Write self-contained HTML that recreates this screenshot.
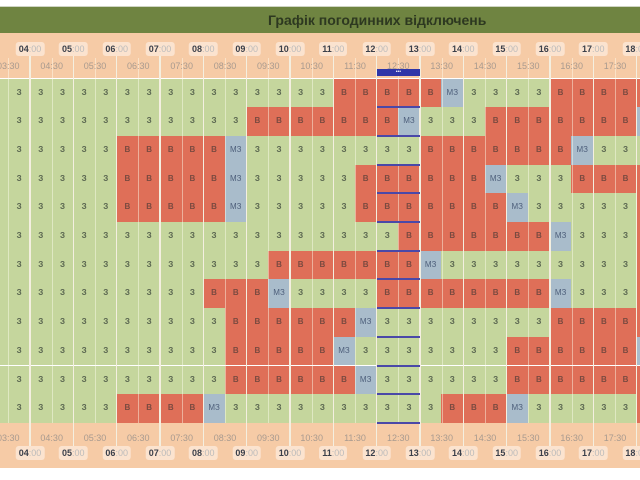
<!DOCTYPE html>
<html><head><meta charset="utf-8"><style>
*{margin:0;padding:0;box-sizing:border-box}
body{width:640px;height:480px;overflow:hidden;background:#fff;position:relative;font-family:"Liberation Sans","DejaVu Sans",sans-serif}
.title{position:absolute;left:0;top:6px;width:640px;height:27px;background:#6f8441;border-top:1px solid #cfd5c4}
.title span{position:absolute;left:268px;top:5px;font-size:14px;font-weight:bold;color:#2d3820;white-space:nowrap}
.hdr{position:absolute;left:0;width:640px;background:#f6cba6}
.row{position:absolute;left:-13.33px;height:28.7px;display:flex;width:700px}
.row span{flex:0 0 21.667px;height:28.7px;line-height:28.7px;text-align:center;font-size:8px;font-weight:bold;color:#5a6650}
.g{background:#c5d69d}.r{background:#df6f58;color:#7a4a40!important}.m{background:#a9bccb;color:#4d5e7a!important;font-weight:normal!important}
.vl{position:absolute;width:1.5px;background:#f4efe0}
.vh{position:absolute;width:1px;background:rgba(255,255,240,0.45)}
.hl{position:absolute;transform:translateX(-50%);background:#fbe3cf;border-radius:3px;font-size:9px;padding:2px 3px;white-space:nowrap;color:#bbb}
.hl b{color:#3a3f4a}
.hh{position:absolute;transform:translateX(-50%);font-size:9px;color:#a89a8f;white-space:nowrap}
.bl{position:absolute;left:376.7px;width:43.3px;height:2px;background:#4a48a8}
</style></head><body>
<div class="title"><span>Графік погодинних відключень</span></div>
<div class="hdr" style="top:33px;height:45px"></div>
<div class="hdr" style="top:423px;height:45px"></div>

<div class="row" style="top:78.5px"><span class="g">З</span><span class="g">З</span><span class="g">З</span><span class="g">З</span><span class="g">З</span><span class="g">З</span><span class="g">З</span><span class="g">З</span><span class="g">З</span><span class="g">З</span><span class="g">З</span><span class="g">З</span><span class="g">З</span><span class="g">З</span><span class="g">З</span><span class="g">З</span><span class="r">В</span><span class="r">В</span><span class="r">В</span><span class="r">В</span><span class="r">В</span><span class="m">МЗ</span><span class="g">З</span><span class="g">З</span><span class="g">З</span><span class="g">З</span><span class="r">В</span><span class="r">В</span><span class="r">В</span><span class="r">В</span><span class="r">В</span></div>
<div class="row" style="top:107.2px"><span class="g">З</span><span class="g">З</span><span class="g">З</span><span class="g">З</span><span class="g">З</span><span class="g">З</span><span class="g">З</span><span class="g">З</span><span class="g">З</span><span class="g">З</span><span class="g">З</span><span class="g">З</span><span class="r">В</span><span class="r">В</span><span class="r">В</span><span class="r">В</span><span class="r">В</span><span class="r">В</span><span class="r">В</span><span class="m">МЗ</span><span class="g">З</span><span class="g">З</span><span class="g">З</span><span class="r">В</span><span class="r">В</span><span class="r">В</span><span class="r">В</span><span class="r">В</span><span class="r">В</span><span class="r">В</span><span class="m">МЗ</span></div>
<div class="row" style="top:135.9px"><span class="g">З</span><span class="g">З</span><span class="g">З</span><span class="g">З</span><span class="g">З</span><span class="g">З</span><span class="r">В</span><span class="r">В</span><span class="r">В</span><span class="r">В</span><span class="r">В</span><span class="m">МЗ</span><span class="g">З</span><span class="g">З</span><span class="g">З</span><span class="g">З</span><span class="g">З</span><span class="g">З</span><span class="g">З</span><span class="g">З</span><span class="r">В</span><span class="r">В</span><span class="r">В</span><span class="r">В</span><span class="r">В</span><span class="r">В</span><span class="r">В</span><span class="m">МЗ</span><span class="g">З</span><span class="g">З</span><span class="g">З</span></div>
<div class="row" style="top:164.6px"><span class="g">З</span><span class="g">З</span><span class="g">З</span><span class="g">З</span><span class="g">З</span><span class="g">З</span><span class="r">В</span><span class="r">В</span><span class="r">В</span><span class="r">В</span><span class="r">В</span><span class="m">МЗ</span><span class="g">З</span><span class="g">З</span><span class="g">З</span><span class="g">З</span><span class="g">З</span><span class="r">В</span><span class="r">В</span><span class="r">В</span><span class="r">В</span><span class="r">В</span><span class="r">В</span><span class="m">МЗ</span><span class="g">З</span><span class="g">З</span><span class="g">З</span><span class="r">В</span><span class="r">В</span><span class="r">В</span><span class="r">В</span></div>
<div class="row" style="top:193.3px"><span class="g">З</span><span class="g">З</span><span class="g">З</span><span class="g">З</span><span class="g">З</span><span class="g">З</span><span class="r">В</span><span class="r">В</span><span class="r">В</span><span class="r">В</span><span class="r">В</span><span class="m">МЗ</span><span class="g">З</span><span class="g">З</span><span class="g">З</span><span class="g">З</span><span class="g">З</span><span class="r">В</span><span class="r">В</span><span class="r">В</span><span class="r">В</span><span class="r">В</span><span class="r">В</span><span class="r">В</span><span class="m">МЗ</span><span class="g">З</span><span class="g">З</span><span class="g">З</span><span class="g">З</span><span class="g">З</span><span class="r">В</span></div>
<div class="row" style="top:222px"><span class="g">З</span><span class="g">З</span><span class="g">З</span><span class="g">З</span><span class="g">З</span><span class="g">З</span><span class="g">З</span><span class="g">З</span><span class="g">З</span><span class="g">З</span><span class="g">З</span><span class="g">З</span><span class="g">З</span><span class="g">З</span><span class="g">З</span><span class="g">З</span><span class="g">З</span><span class="g">З</span><span class="g">З</span><span class="r">В</span><span class="r">В</span><span class="r">В</span><span class="r">В</span><span class="r">В</span><span class="r">В</span><span class="r">В</span><span class="m">МЗ</span><span class="g">З</span><span class="g">З</span><span class="g">З</span><span class="r">В</span></div>
<div class="row" style="top:250.7px"><span class="g">З</span><span class="g">З</span><span class="g">З</span><span class="g">З</span><span class="g">З</span><span class="g">З</span><span class="g">З</span><span class="g">З</span><span class="g">З</span><span class="g">З</span><span class="g">З</span><span class="g">З</span><span class="g">З</span><span class="r">В</span><span class="r">В</span><span class="r">В</span><span class="r">В</span><span class="r">В</span><span class="r">В</span><span class="r">В</span><span class="m">МЗ</span><span class="g">З</span><span class="g">З</span><span class="g">З</span><span class="g">З</span><span class="g">З</span><span class="g">З</span><span class="g">З</span><span class="g">З</span><span class="g">З</span><span class="r">В</span></div>
<div class="row" style="top:279.4px"><span class="g">З</span><span class="g">З</span><span class="g">З</span><span class="g">З</span><span class="g">З</span><span class="g">З</span><span class="g">З</span><span class="g">З</span><span class="g">З</span><span class="g">З</span><span class="r">В</span><span class="r">В</span><span class="r">В</span><span class="m">МЗ</span><span class="g">З</span><span class="g">З</span><span class="g">З</span><span class="g">З</span><span class="r">В</span><span class="r">В</span><span class="r">В</span><span class="r">В</span><span class="r">В</span><span class="r">В</span><span class="r">В</span><span class="r">В</span><span class="m">МЗ</span><span class="g">З</span><span class="g">З</span><span class="g">З</span><span class="r">В</span></div>
<div class="row" style="top:308.1px"><span class="g">З</span><span class="g">З</span><span class="g">З</span><span class="g">З</span><span class="g">З</span><span class="g">З</span><span class="g">З</span><span class="g">З</span><span class="g">З</span><span class="g">З</span><span class="g">З</span><span class="r">В</span><span class="r">В</span><span class="r">В</span><span class="r">В</span><span class="r">В</span><span class="r">В</span><span class="m">МЗ</span><span class="g">З</span><span class="g">З</span><span class="g">З</span><span class="g">З</span><span class="g">З</span><span class="g">З</span><span class="g">З</span><span class="g">З</span><span class="r">В</span><span class="r">В</span><span class="r">В</span><span class="r">В</span><span class="r">В</span></div>
<div class="row" style="top:336.8px"><span class="g">З</span><span class="g">З</span><span class="g">З</span><span class="g">З</span><span class="g">З</span><span class="g">З</span><span class="g">З</span><span class="g">З</span><span class="g">З</span><span class="g">З</span><span class="g">З</span><span class="r">В</span><span class="r">В</span><span class="r">В</span><span class="r">В</span><span class="r">В</span><span class="m">МЗ</span><span class="g">З</span><span class="g">З</span><span class="g">З</span><span class="g">З</span><span class="g">З</span><span class="g">З</span><span class="g">З</span><span class="r">В</span><span class="r">В</span><span class="r">В</span><span class="r">В</span><span class="r">В</span><span class="r">В</span><span class="m">МЗ</span></div>
<div class="row" style="top:365.5px"><span class="g">З</span><span class="g">З</span><span class="g">З</span><span class="g">З</span><span class="g">З</span><span class="g">З</span><span class="g">З</span><span class="g">З</span><span class="g">З</span><span class="g">З</span><span class="g">З</span><span class="r">В</span><span class="r">В</span><span class="r">В</span><span class="r">В</span><span class="r">В</span><span class="r">В</span><span class="m">МЗ</span><span class="g">З</span><span class="g">З</span><span class="g">З</span><span class="g">З</span><span class="g">З</span><span class="g">З</span><span class="r">В</span><span class="r">В</span><span class="r">В</span><span class="r">В</span><span class="r">В</span><span class="r">В</span><span class="r">В</span></div>
<div class="row" style="top:394.2px"><span class="g">З</span><span class="g">З</span><span class="g">З</span><span class="g">З</span><span class="g">З</span><span class="g">З</span><span class="r">В</span><span class="r">В</span><span class="r">В</span><span class="r">В</span><span class="m">МЗ</span><span class="g">З</span><span class="g">З</span><span class="g">З</span><span class="g">З</span><span class="g">З</span><span class="g">З</span><span class="g">З</span><span class="g">З</span><span class="g">З</span><span class="g">З</span><span class="r">В</span><span class="r">В</span><span class="r">В</span><span class="m">МЗ</span><span class="g">З</span><span class="g">З</span><span class="g">З</span><span class="g">З</span><span class="g">З</span><span class="r">В</span></div>

<div class="vh" style="left:8.3px;top:58px;height:365px"></div><div class="vh" style="left:51.7px;top:58px;height:365px"></div><div class="vh" style="left:95px;top:58px;height:365px"></div><div class="vh" style="left:138.3px;top:58px;height:365px"></div><div class="vh" style="left:181.7px;top:58px;height:365px"></div><div class="vh" style="left:225px;top:58px;height:365px"></div><div class="vh" style="left:268.3px;top:58px;height:365px"></div><div class="vh" style="left:311.7px;top:58px;height:365px"></div><div class="vh" style="left:355px;top:58px;height:365px"></div><div class="vh" style="left:398.3px;top:58px;height:365px"></div><div class="vh" style="left:441.7px;top:58px;height:365px"></div><div class="vh" style="left:485px;top:58px;height:365px"></div><div class="vh" style="left:528.3px;top:58px;height:365px"></div><div class="vh" style="left:571.7px;top:58px;height:365px"></div><div class="vh" style="left:615px;top:58px;height:365px"></div>
<div class="vl" style="left:29.3px;top:55px;height:393px"></div><div class="vl" style="left:72.6px;top:55px;height:393px"></div><div class="vl" style="left:115.9px;top:55px;height:393px"></div><div class="vl" style="left:159.2px;top:55px;height:393px"></div><div class="vl" style="left:202.5px;top:55px;height:393px"></div><div class="vl" style="left:245.9px;top:55px;height:393px"></div><div class="vl" style="left:289.2px;top:55px;height:393px"></div><div class="vl" style="left:332.5px;top:55px;height:393px"></div><div class="vl" style="left:375.9px;top:55px;height:393px"></div><div class="vl" style="left:419.2px;top:55px;height:393px"></div><div class="vl" style="left:462.5px;top:55px;height:393px"></div><div class="vl" style="left:505.9px;top:55px;height:393px"></div><div class="vl" style="left:549.2px;top:55px;height:393px"></div><div class="vl" style="left:592.5px;top:55px;height:393px"></div><div class="vl" style="left:635.9px;top:55px;height:393px"></div>

<div class="bl" style="top:69px;height:7px;background:#2f35a8;color:#fff;font-size:5px;text-align:center;line-height:7px">•••</div>
<div class="bl" style="top:106.2px"></div><div class="bl" style="top:134.9px"></div><div class="bl" style="top:163.6px"></div><div class="bl" style="top:192.3px"></div><div class="bl" style="top:221px"></div><div class="bl" style="top:249.7px"></div><div class="bl" style="top:278.4px"></div><div class="bl" style="top:307.1px"></div><div class="bl" style="top:335.8px"></div><div class="bl" style="top:364.5px"></div><div class="bl" style="top:393.2px"></div><div class="bl" style="top:421.5px"></div>

<div class="hl" style="left:30px;top:42px"><b>04</b>:00</div><div class="hl" style="left:73.3px;top:42px"><b>05</b>:00</div><div class="hl" style="left:116.7px;top:42px"><b>06</b>:00</div><div class="hl" style="left:160px;top:42px"><b>07</b>:00</div><div class="hl" style="left:203.3px;top:42px"><b>08</b>:00</div><div class="hl" style="left:246.7px;top:42px"><b>09</b>:00</div><div class="hl" style="left:290px;top:42px"><b>10</b>:00</div><div class="hl" style="left:333.3px;top:42px"><b>11</b>:00</div><div class="hl" style="left:376.7px;top:42px"><b>12</b>:00</div><div class="hl" style="left:420px;top:42px"><b>13</b>:00</div><div class="hl" style="left:463.3px;top:42px"><b>14</b>:00</div><div class="hl" style="left:506.7px;top:42px"><b>15</b>:00</div><div class="hl" style="left:550px;top:42px"><b>16</b>:00</div><div class="hl" style="left:593.3px;top:42px"><b>17</b>:00</div><div class="hl" style="left:636.7px;top:42px"><b>18</b>:00</div>
<div class="hh" style="left:8.3px;top:61px">03:30</div><div class="hh" style="left:51.7px;top:61px">04:30</div><div class="hh" style="left:95px;top:61px">05:30</div><div class="hh" style="left:138.3px;top:61px">06:30</div><div class="hh" style="left:181.7px;top:61px">07:30</div><div class="hh" style="left:225px;top:61px">08:30</div><div class="hh" style="left:268.3px;top:61px">09:30</div><div class="hh" style="left:311.7px;top:61px">10:30</div><div class="hh" style="left:355px;top:61px">11:30</div><div class="hh" style="left:398.3px;top:61px">12:30</div><div class="hh" style="left:441.7px;top:61px">13:30</div><div class="hh" style="left:485px;top:61px">14:30</div><div class="hh" style="left:528.3px;top:61px">15:30</div><div class="hh" style="left:571.7px;top:61px">16:30</div><div class="hh" style="left:615px;top:61px">17:30</div>
<div class="hh" style="left:8.3px;top:433px">03:30</div><div class="hh" style="left:51.7px;top:433px">04:30</div><div class="hh" style="left:95px;top:433px">05:30</div><div class="hh" style="left:138.3px;top:433px">06:30</div><div class="hh" style="left:181.7px;top:433px">07:30</div><div class="hh" style="left:225px;top:433px">08:30</div><div class="hh" style="left:268.3px;top:433px">09:30</div><div class="hh" style="left:311.7px;top:433px">10:30</div><div class="hh" style="left:355px;top:433px">11:30</div><div class="hh" style="left:398.3px;top:433px">12:30</div><div class="hh" style="left:441.7px;top:433px">13:30</div><div class="hh" style="left:485px;top:433px">14:30</div><div class="hh" style="left:528.3px;top:433px">15:30</div><div class="hh" style="left:571.7px;top:433px">16:30</div><div class="hh" style="left:615px;top:433px">17:30</div>
<div class="hl" style="left:30px;top:446px"><b>04</b>:00</div><div class="hl" style="left:73.3px;top:446px"><b>05</b>:00</div><div class="hl" style="left:116.7px;top:446px"><b>06</b>:00</div><div class="hl" style="left:160px;top:446px"><b>07</b>:00</div><div class="hl" style="left:203.3px;top:446px"><b>08</b>:00</div><div class="hl" style="left:246.7px;top:446px"><b>09</b>:00</div><div class="hl" style="left:290px;top:446px"><b>10</b>:00</div><div class="hl" style="left:333.3px;top:446px"><b>11</b>:00</div><div class="hl" style="left:376.7px;top:446px"><b>12</b>:00</div><div class="hl" style="left:420px;top:446px"><b>13</b>:00</div><div class="hl" style="left:463.3px;top:446px"><b>14</b>:00</div><div class="hl" style="left:506.7px;top:446px"><b>15</b>:00</div><div class="hl" style="left:550px;top:446px"><b>16</b>:00</div><div class="hl" style="left:593.3px;top:446px"><b>17</b>:00</div><div class="hl" style="left:636.7px;top:446px"><b>18</b>:00</div>
</body></html>
